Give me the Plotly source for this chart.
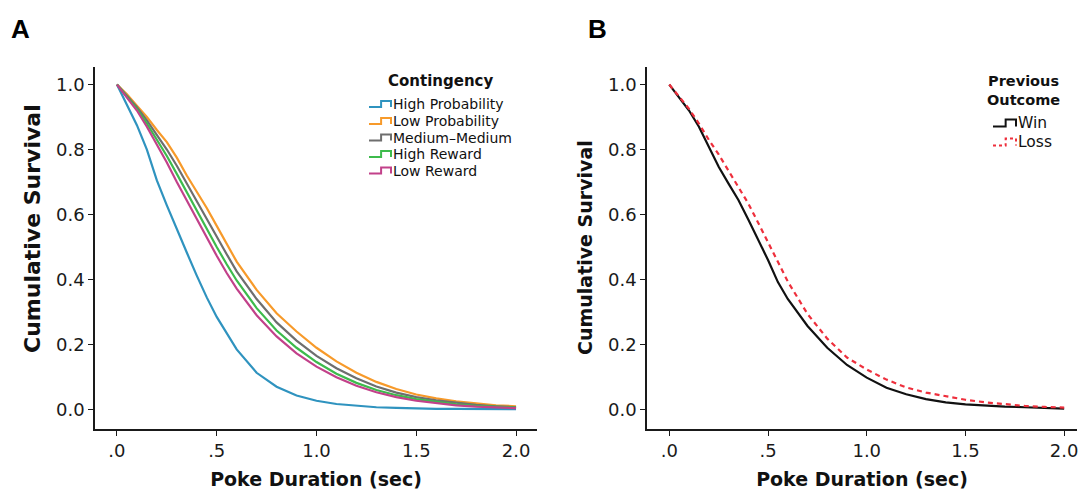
import plotly.graph_objects as go

# ---------------- data ----------------
x_vals = [0, 0.05, 0.1, 0.15, 0.2, 0.25, 0.3, 0.35, 0.4, 0.45, 0.5, 0.55, 0.6,
          0.7, 0.8, 0.9, 1.0, 1.1, 1.2, 1.3, 1.4, 1.5, 1.6, 1.7, 1.8, 1.9, 2.0]

high_probability = [1.0, 0.94, 0.875, 0.80, 0.705, 0.628, 0.553, 0.483, 0.412, 0.345, 0.285, 0.233, 0.185,
                    0.113, 0.07, 0.043, 0.027, 0.017, 0.011, 0.007, 0.005, 0.003, 0.002, 0.002, 0.001, 0.001, 0.001]
low_probability = [1.0, 0.97, 0.935, 0.90, 0.86, 0.823, 0.775, 0.72, 0.67, 0.62, 0.565, 0.51, 0.455,
                   0.368, 0.296, 0.24, 0.19, 0.148, 0.113, 0.085, 0.063, 0.046, 0.034, 0.025, 0.018, 0.013, 0.01]
medium_medium = [1.0, 0.965, 0.93, 0.89, 0.845, 0.80, 0.75, 0.695, 0.64, 0.585, 0.53, 0.478, 0.425,
                 0.34, 0.268, 0.212, 0.165, 0.127, 0.096, 0.071, 0.052, 0.038, 0.028, 0.02, 0.014, 0.01, 0.007]
high_reward = [1.0, 0.963, 0.925, 0.88, 0.83, 0.78, 0.725, 0.668, 0.61, 0.555, 0.50, 0.447, 0.397,
               0.312, 0.243, 0.19, 0.146, 0.11, 0.082, 0.06, 0.044, 0.032, 0.023, 0.016, 0.011, 0.008, 0.006]
low_reward = [1.0, 0.96, 0.92, 0.87, 0.815, 0.76, 0.70, 0.643, 0.585, 0.528, 0.473, 0.42, 0.372,
              0.29, 0.225, 0.173, 0.132, 0.099, 0.073, 0.053, 0.038, 0.027, 0.019, 0.013, 0.009, 0.006, 0.004]

win = [1.0, 0.96, 0.92, 0.87, 0.81, 0.747, 0.695, 0.645, 0.585, 0.525, 0.46, 0.392, 0.34,
       0.257, 0.19, 0.137, 0.098, 0.067, 0.047, 0.032, 0.022, 0.016, 0.012, 0.009, 0.007, 0.005, 0.003]
loss = [1.0, 0.962, 0.925, 0.88, 0.83, 0.785, 0.735, 0.685, 0.634, 0.575, 0.515, 0.455, 0.394,
        0.294, 0.218, 0.16, 0.123, 0.092, 0.068, 0.052, 0.04, 0.03, 0.022, 0.016, 0.011, 0.008, 0.006]

contingency_names = ["High Probability", "Low Probability", "Medium\u2013Medium", "High Reward", "Low Reward"]
contingency_series = [high_probability, low_probability, medium_medium, high_reward, low_reward]
contingency_colors = ["#2f93bf", "#f79a2a", "#6e6e6e", "#3dbb4c", "#c2418a"]

outcome_names = ["Win", "Loss"]
outcome_series = [win, loss]
outcome_colors = ["#111111", "#ee2f3c"]
outcome_dashes = ["solid", "5px,4px"]

x_tickvals = [0, 0.5, 1.0, 1.5, 2.0]
x_ticktext = [".0", ".5", "1.0", "1.5", "2.0"]
y_tickvals = [0, 0.2, 0.4, 0.6, 0.8, 1.0]
y_ticktext = ["0.0", "0.2", "0.4", "0.6", "0.8", "1.0"]

# ---------------- figure ----------------
W, H = 1083, 491
FONT = "DejaVu Sans"


def px(x):
    return x / W


def py(y):
    return 1 - y / H


fig = go.Figure()

for name, ys, col in zip(contingency_names, contingency_series, contingency_colors):
    fig.add_trace(go.Scatter(x=x_vals, y=ys, mode="lines", name=name, showlegend=False,
                             line=dict(color=col, width=2.2), xaxis="x", yaxis="y"))

for name, ys, col, dash in zip(outcome_names, outcome_series, outcome_colors, outcome_dashes):
    fig.add_trace(go.Scatter(x=x_vals, y=ys, mode="lines", name=name, showlegend=False,
                             line=dict(color=col, width=2.2, dash=dash), xaxis="x2", yaxis="y2"))

ydom = [py(429), py(67)]
common_x = dict(showline=True, linecolor="#1a1a1a", linewidth=1.6, ticks="outside",
                ticklen=5, tickwidth=1.3, tickcolor="#1a1a1a",
                tickvals=x_tickvals, ticktext=x_ticktext, showgrid=False, zeroline=False,
                tickfont=dict(family=FONT, size=18, color="#1a1a1a"),
                title=dict(text="<b>Poke Duration (sec)</b>", standoff=12,
                           font=dict(family=FONT, size=19, color="#111111")))
common_y = dict(showline=True, linecolor="#1a1a1a", linewidth=1.6, ticks="outside",
                ticklen=5, tickwidth=1.3, tickcolor="#1a1a1a",
                tickvals=y_tickvals, ticktext=y_ticktext, showgrid=False, zeroline=False,
                range=[-0.06, 1.054],
                tickfont=dict(family=FONT, size=18, color="#1a1a1a"))

annotations = [
    dict(text="<b>A</b>", x=px(9), y=py(29), xanchor="left", yanchor="middle",
         font=dict(family="Liberation Sans", size=26, color="#000000")),
    dict(text="<b>B</b>", x=px(586), y=py(29), xanchor="left", yanchor="middle",
         font=dict(family="Liberation Sans", size=26, color="#000000")),
    dict(text="<b>Cumulative Survival</b>", x=px(33), y=py(229), textangle=-90,
         xanchor="center", yanchor="middle",
         font=dict(family=FONT, size=22, color="#111111")),
    dict(text="<b>Cumulative Survival</b>", x=px(585), y=py(248), textangle=-90,
         xanchor="center", yanchor="middle",
         font=dict(family=FONT, size=19, color="#111111")),
    dict(text="<b>Contingency</b>", x=px(440), y=py(81), xanchor="center", yanchor="middle",
         font=dict(family=FONT, size=15, color="#111111")),
    dict(text="<b>Previous<br>Outcome</b>", x=px(1023), y=py(90), xanchor="center", yanchor="middle",
         font=dict(family=FONT, size=14.5, color="#111111")),
]
shapes = []


def step_path(x0, yc, width=22, height=6):
    x1 = x0 + width * 0.55
    x2 = x0 + width
    yb = yc + height / 2
    yt = yc - height / 2
    return (f"M {px(x0)},{py(yb)} L {px(x1)},{py(yb)} L {px(x1)},{py(yt)} "
            f"L {px(x2)},{py(yt)} L {px(x2)},{py(yb)}")


row_y_a = [104, 121, 137.5, 154, 170.5]
for name, col, yc in zip(contingency_names, contingency_colors, row_y_a):
    shapes.append(dict(type="path", path=step_path(369, yc), xref="paper", yref="paper",
                       line=dict(color=col, width=2)))
    annotations.append(dict(text=name, x=px(391), y=py(yc), xanchor="left", yanchor="middle",
                            font=dict(family=FONT, size=14, color="#111111")))

row_y_b = [123, 142]
for name, col, dash, yc in zip(outcome_names, outcome_colors, ["solid", "3px,3px"], row_y_b):
    shapes.append(dict(type="path", path=step_path(993, yc, width=23, height=7), xref="paper", yref="paper",
                       line=dict(color=col, width=2, dash=dash)))
    annotations.append(dict(text=name, x=px(1016), y=py(yc), xanchor="left", yanchor="middle",
                            font=dict(family=FONT, size=15.5, color="#111111")))

for a in annotations:
    a.update(xref="paper", yref="paper", showarrow=False)

fig.update_layout(
    width=W, height=H,
    margin=dict(l=0, r=0, t=0, b=0),
    paper_bgcolor="white", plot_bgcolor="white",
    font=dict(family=FONT, color="#111111"),
    showlegend=False,
    xaxis=dict(common_x, domain=[px(95), px(537)], range=[-0.11, 2.105], anchor="y"),
    yaxis=dict(common_y, domain=ydom, anchor="x"),
    xaxis2=dict(common_x, domain=[px(647), px(1077)], range=[-0.113, 2.065], anchor="y2"),
    yaxis2=dict(common_y, domain=ydom, anchor="x2"),
    annotations=annotations,
    shapes=shapes,
)

fig.write_html("out.html")
